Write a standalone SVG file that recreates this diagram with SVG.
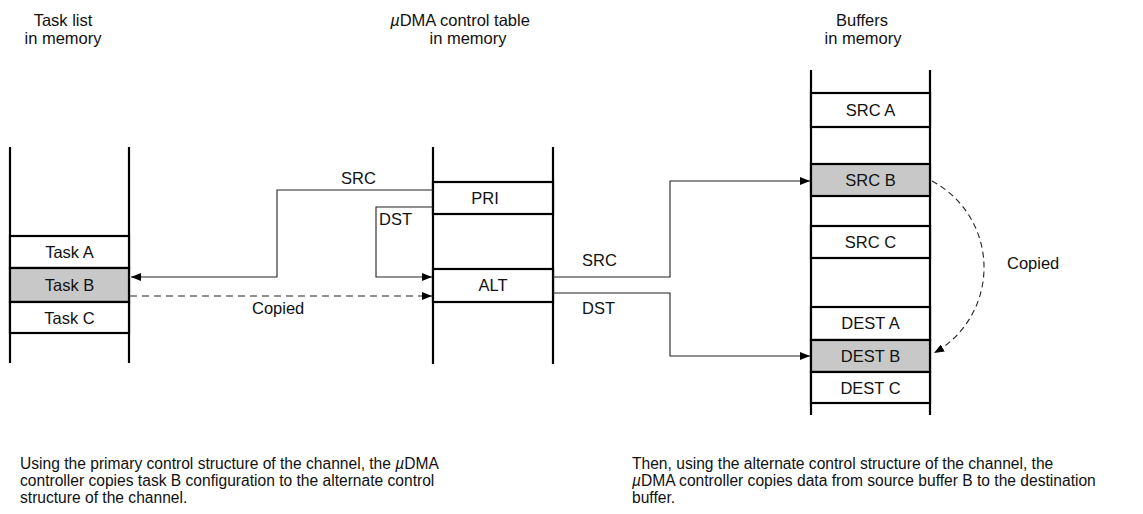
<svg xmlns="http://www.w3.org/2000/svg" width="1143" height="514" viewBox="0 0 1143 514">
<defs>
<style>
text{font-family:"Liberation Sans",Arial,sans-serif;font-size:16.5px;fill:#111}
.c{text-anchor:middle}
.cap{font-size:15.6px}
.col{stroke:#000;stroke-width:2.2;fill:none}
.cell{stroke:#000;stroke-width:2.2;fill:#fff}
.hi{fill:#c8c8c8}
.ln{stroke:#222;stroke-width:1.1;fill:none}
.dash{stroke-dasharray:7 5}
.dc{stroke-dasharray:6 4}
</style>
<marker id="ah" viewBox="0 0 10 8" refX="10" refY="4" markerWidth="10" markerHeight="8" markerUnits="userSpaceOnUse" orient="auto">
<path d="M0,0 L10,4 L0,8 Z" fill="#000"/>
</marker>
</defs>
<rect width="1143" height="514" fill="#fff"/>

<g id="titles">
<text class="c" x="63" y="26">Task list</text>
<text class="c" x="63" y="44">in memory</text>
<text class="c" x="460" y="26"><tspan font-style="italic">µ</tspan>DMA control table</text>
<text class="c" x="468" y="44">in memory</text>
<text class="c" x="862" y="26">Buffers</text>
<text class="c" x="863" y="44">in memory</text>
</g>

<g id="tasklist">
<line class="col" x1="10" y1="147" x2="10" y2="363"/>
<line class="col" x1="129" y1="147" x2="129" y2="363"/>
<rect class="cell" x="10" y="236" width="119" height="32"/>
<rect class="cell hi" x="10" y="268" width="119" height="34"/>
<rect class="cell" x="10" y="302" width="119" height="31"/>
<text class="c" x="69.5" y="258">Task A</text>
<text class="c" x="69.5" y="291">Task B</text>
<text class="c" x="69.5" y="324">Task C</text>
</g>

<g id="controltable">
<line class="col" x1="433" y1="147" x2="433" y2="364"/>
<line class="col" x1="553" y1="147" x2="553" y2="364"/>
<rect class="cell" x="433" y="182" width="120" height="32"/>
<rect class="cell" x="433" y="269" width="120" height="33"/>
<text class="c" x="485" y="204">PRI</text>
<text class="c" x="493" y="291">ALT</text>
</g>

<g id="buffers">
<line class="col" x1="811" y1="70" x2="811" y2="415"/>
<line class="col" x1="930" y1="70" x2="930" y2="415"/>
<rect class="cell" x="811" y="93" width="119" height="34"/>
<rect class="cell hi" x="811" y="164" width="119" height="32"/>
<rect class="cell" x="811" y="226" width="119" height="32"/>
<rect class="cell" x="811" y="307" width="119" height="33"/>
<rect class="cell hi" x="811" y="340" width="119" height="32"/>
<rect class="cell" x="811" y="372" width="119" height="31"/>
<text class="c" x="870.5" y="116">SRC A</text>
<text class="c" x="870.5" y="186">SRC B</text>
<text class="c" x="870.5" y="248">SRC C</text>
<text class="c" x="870.5" y="329">DEST A</text>
<text class="c" x="870.5" y="362">DEST B</text>
<text class="c" x="870.5" y="394">DEST C</text>
</g>

<g id="connectors">
<polyline class="ln" points="433,190 277,190 277,277 131,277" marker-end="url(#ah)"/>
<polyline class="ln" points="433,207 376,207 376,277 432,277" marker-end="url(#ah)"/>
<line class="ln dash" x1="130" y1="296" x2="432" y2="296" marker-end="url(#ah)"/>
<polyline class="ln" points="553,277 670,277 670,181 810,181" marker-end="url(#ah)"/>
<polyline class="ln" points="553,293 670,293 670,356 810,356" marker-end="url(#ah)"/>
<path class="ln dc" d="M932,181 A98,98 0 0 1 934,353" marker-end="url(#ah)"/>
</g>

<g id="labels">
<text x="341" y="184">SRC</text>
<text x="379" y="225">DST</text>
<text x="252" y="314">Copied</text>
<text x="582" y="266">SRC</text>
<text x="582" y="314">DST</text>
<text x="1007" y="269">Copied</text>
</g>

<g id="captions">
<text class="cap" x="20" y="469">Using the primary control structure of the channel, the <tspan font-style="italic">µ</tspan>DMA</text>
<text class="cap" x="20" y="486">controller copies task B configuration to the alternate control</text>
<text class="cap" x="20" y="503">structure of the channel.</text>
<text class="cap" x="632" y="469">Then, using the alternate control structure of the channel, the</text>
<text class="cap" x="632" y="486"><tspan font-style="italic">µ</tspan>DMA controller copies data from source buffer B to the destination</text>
<text class="cap" x="632" y="503">buffer.</text>
</g>
</svg>
